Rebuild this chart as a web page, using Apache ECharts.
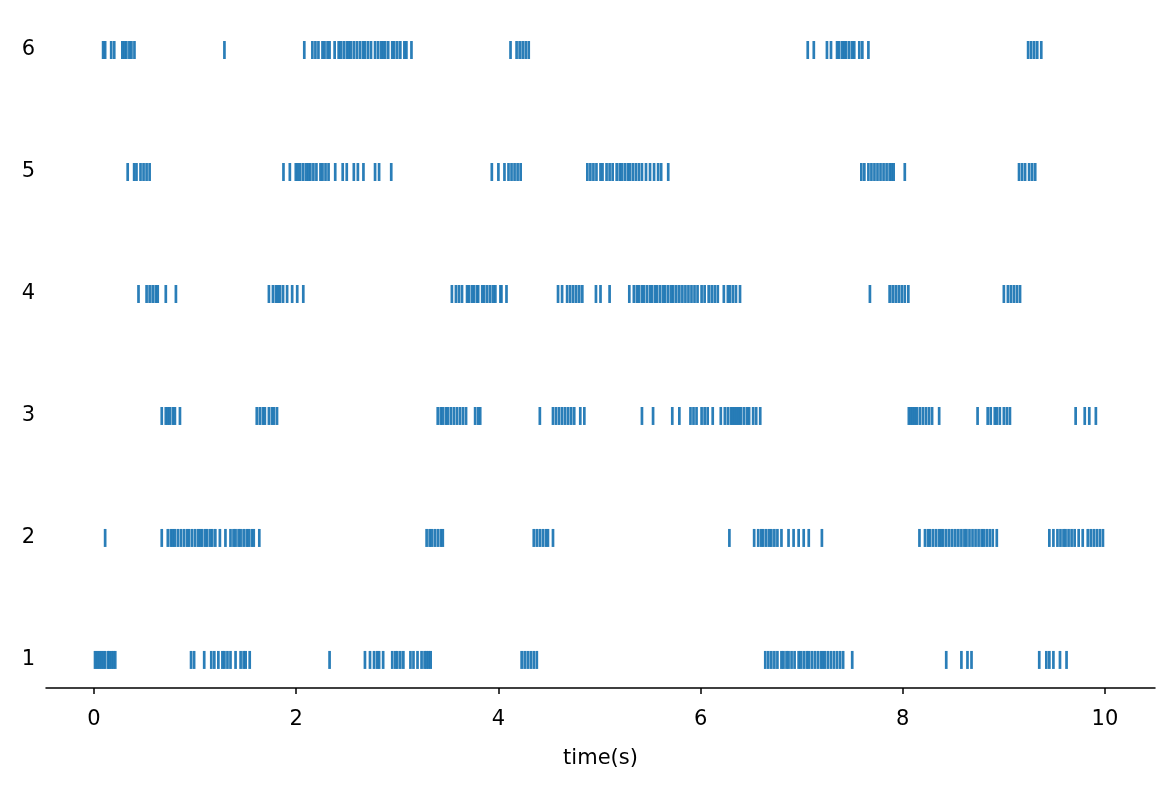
<!DOCTYPE html>
<html>
<head>
<meta charset="utf-8">
<script src="https://cdn.jsdelivr.net/npm/echarts@6/dist/echarts.min.js"></script>
<style>
html,body{margin:0;padding:0;background:#fff;}
#diagram{width:1174px;height:790px;}
</style>
</head>
<body>
<div id="diagram"></div>
<script>
// spike times (s) for each neuron, read from the raster
var neuron1 = [0.01,0.03,0.05,0.07,0.09,0.11,0.14,0.15,0.17,0.19,0.21,0.96,0.99,1.09,1.16,1.19,1.23,1.27,1.29,1.32,1.35,1.40,1.45,1.48,1.50,1.54,
	2.33,2.68,2.73,2.77,2.80,2.82,2.86,2.95,2.98,3.00,3.03,3.06,3.13,3.16,3.20,3.24,3.27,3.29,3.31,3.33,4.23,4.26,4.29,4.32,4.35,4.38,
	6.64,6.67,6.70,6.73,6.76,6.80,6.82,6.85,6.87,6.90,6.93,6.97,6.99,7.02,7.05,7.07,7.10,7.13,7.16,7.19,7.21,7.23,7.26,7.29,7.32,7.35,7.38,7.41,
	7.50,8.43,8.58,8.64,8.68,9.35,9.42,9.45,9.49,9.555,9.62];
var neuron2 = [0.11,0.67,0.73,0.76,0.78,0.80,0.83,0.86,0.89,0.92,0.94,0.97,1.00,1.03,1.05,1.07,1.10,1.12,1.15,1.17,1.20,1.245,1.30,
	1.35,1.38,1.40,1.43,1.45,1.48,1.51,1.53,1.56,1.58,1.635,3.29,3.32,3.34,3.37,3.40,3.43,3.45,4.35,4.38,4.41,4.44,4.47,4.49,4.54,
	6.285,6.53,6.57,6.60,6.62,6.65,6.68,6.70,6.73,6.76,6.80,6.87,6.92,6.97,7.02,7.07,7.20,8.165,
	8.22,8.25,8.27,8.30,8.33,8.36,8.38,8.40,8.43,8.46,8.49,8.52,8.55,8.58,8.61,8.63,8.66,8.69,8.72,8.75,8.78,8.80,8.83,8.86,8.89,8.93,
	9.45,9.49,9.53,9.56,9.59,9.61,9.64,9.67,9.70,9.74,9.78,9.83,9.86,9.89,9.92,9.95,9.98];
var neuron3 = [0.67,0.71,0.73,0.75,0.78,0.80,0.85,1.61,1.64,1.67,1.69,1.73,1.76,1.78,1.81,
	3.40,3.43,3.45,3.48,3.50,3.53,3.56,3.59,3.62,3.65,3.68,3.77,3.80,3.82,4.41,4.54,4.57,4.60,4.63,4.66,4.69,4.72,4.75,4.81,4.85,
	5.42,5.53,5.72,5.79,5.90,5.93,5.96,6.01,6.04,6.07,6.12,6.20,6.24,6.27,6.30,6.32,6.34,6.36,6.38,6.40,6.43,6.46,6.48,6.52,6.55,6.59,
	8.06,8.08,8.10,8.12,8.14,8.17,8.20,8.23,8.26,8.29,8.36,8.74,8.84,8.87,8.91,8.93,8.96,9.00,9.03,9.06,9.71,9.80,9.845,9.91];
var neuron4 = [0.44,0.52,0.55,0.58,0.61,0.63,0.71,0.81,1.73,1.77,1.80,1.82,1.84,1.87,1.91,1.96,2.01,2.07,
	3.54,3.58,3.61,3.64,3.69,3.71,3.74,3.76,3.79,3.80,3.84,3.86,3.89,3.92,3.95,3.97,4.02,4.03,4.08,
	4.59,4.63,4.68,4.71,4.74,4.77,4.80,4.83,4.965,5.01,5.10,5.295,
	5.34,5.37,5.39,5.42,5.44,5.47,5.50,5.52,5.55,5.57,5.60,5.63,5.65,5.68,5.71,5.73,5.76,5.79,5.82,5.85,5.88,5.91,5.94,5.97,
	6.01,6.04,6.08,6.11,6.14,6.17,6.23,6.27,6.29,6.32,6.35,6.39,7.675,7.87,7.90,7.93,7.96,7.99,8.02,8.055,9.00,9.04,9.07,9.10,9.13,9.16];
var neuron5 = [0.333,0.397,0.42,0.46,0.49,0.52,0.55,1.874,1.937,1.996,2.016,2.04,2.07,2.10,2.12,2.14,2.17,2.20,2.24,2.26,2.29,2.32,2.386,
	2.46,2.50,2.57,2.61,2.665,2.78,2.82,2.94,3.935,4.00,4.06,4.10,4.13,4.16,4.19,4.22,
	4.88,4.91,4.94,4.97,5.01,5.03,5.07,5.10,5.13,5.17,5.20,5.22,5.25,5.28,5.30,5.33,5.36,5.39,5.42,5.46,5.50,5.54,5.58,5.61,5.68,
	7.59,7.62,7.66,7.69,7.72,7.75,7.78,7.81,7.84,7.87,7.89,7.91,8.02,9.15,9.18,9.21,9.25,9.28,9.31];
var neuron6 = [0.09,0.11,0.17,0.20,0.28,0.30,0.32,0.35,0.37,0.40,1.29,2.08,
	2.16,2.19,2.22,2.26,2.28,2.31,2.33,2.38,2.42,2.44,2.47,2.50,2.52,2.54,2.57,2.60,2.63,2.66,2.68,2.71,2.74,2.78,2.81,2.84,2.86,2.88,
	2.91,2.95,2.97,3.00,3.03,3.07,3.09,3.14,4.12,4.18,4.21,4.24,4.27,4.30,
	7.06,7.12,7.25,7.29,7.35,7.37,7.40,7.42,7.44,7.47,7.50,7.52,7.57,7.60,7.66,9.24,9.27,9.30,9.33,9.37];

var neurons = [neuron1, neuron2, neuron3, neuron4, neuron5, neuron6];
var xTicks = [0, 2, 4, 6, 8, 10];
var yTicks = [1, 2, 3, 4, 5, 6];

var chartdata = [];
neurons.forEach(function(times, i){
	times.forEach(function(t){
		chartdata.push([t, i + 1]);
	});
});

var font = 'DejaVu Sans';

var option = {
	animation: false,
	grid: {left: 46, right: 19, top: 20, bottom: 102},
	xAxis: {
		type: 'value',
		min: -0.475,
		max: 10.495,
		name: 'time(s)',
		nameLocation: 'middle',
		nameGap: 60,
		nameTextStyle: {color: '#000', fontSize: 21, fontFamily: font},
		splitLine: {show: false},
		axisLine: {show: true, onZero: false, lineStyle: {color: '#000', width: 1.5}},
		axisTick: {show: true, length: 6, customValues: xTicks, lineStyle: {color: '#000', width: 1.5}},
		axisLabel: {color: '#000', fontSize: 21, fontFamily: font, margin: 21, customValues: xTicks}
	},
	yAxis: {
		type: 'value',
		min: 0.770,
		max: 6.246,
		splitLine: {show: false},
		axisLine: {show: false},
		axisTick: {show: false, customValues: yTicks},
		axisLabel: {color: '#000', fontSize: 21, fontFamily: font, margin: 11, customValues: yTicks}
	},
	series: [{
		type: 'scatter',
		symbol: 'rect',
		symbolSize: [2.7, 18],
		itemStyle: {color: '#1f77b4', opacity: 0.95},
		data: chartdata
	}]
};

var myChart = echarts.init(document.getElementById('diagram'));
myChart.setOption(option);
</script>
</body>
</html>
